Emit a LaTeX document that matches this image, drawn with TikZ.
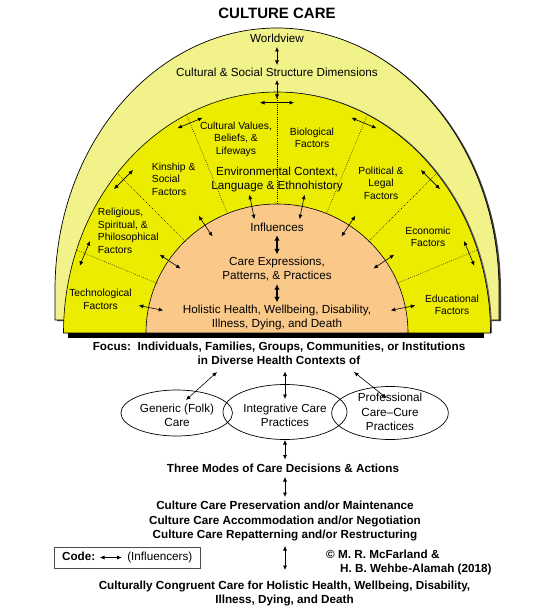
\documentclass[tikz,border=0pt]{standalone}
\usepackage{fontspec}
\setmainfont{Liberation Sans}
\usetikzlibrary{arrows.meta,calc}
\definecolor{lightyel}{RGB}{242,242,138}
\definecolor{yel}{RGB}{236,236,0}
\definecolor{peach}{RGB}{250,201,138}
\begin{document}
\begin{tikzpicture}[x=1pt,y=1pt,
  lbl/.style={font=\fontsize{11.7}{14.3}\selectfont, align=center, inner sep=0pt},
  envlbl/.style={font=\fontsize{11.7}{13.4}\selectfont, align=center, inner sep=0pt},
  sect/.style={font=\fontsize{10.3}{12.5}\selectfont, align=center, inner sep=0pt},
  sectl/.style={font=\fontsize{10.3}{12.5}\selectfont, align=left, inner sep=0pt, anchor=west},
  bld/.style={font=\fontsize{11.7}{14.3}\selectfont\bfseries, align=center, inner sep=0pt},
  inf/.style={{Latex[length=4.5pt,width=4pt]}-{Latex[length=4.5pt,width=4pt]}, line width=0.6pt},
  bigarr/.style={{Latex[length=5.5pt,width=5.5pt]}-{Latex[length=5.5pt,width=5.5pt]}, line width=1.3pt},
  divline/.style={line width=0.4pt, dash pattern=on 0.8pt off 1.3pt},
  carering/.style={draw, line width=0.7pt},
]
\useasboundingbox (0,0) rectangle (555,-612);
\fill[white] (0,0) rectangle (555,-612);
\coordinate (C) at (277,-333);

% outer dome with shadow
\fill[black!75] (57,-321) -- (57,-291) arc[start angle=180,end angle=0,x radius=222,y radius=262] -- (501,-321) -- cycle;
\filldraw[fill=lightyel, draw=black, line width=0.7pt] (55,-320) -- (55,-290) arc[start angle=180,end angle=0,x radius=222,y radius=262] -- (499,-320) -- cycle;

% inner dome
\fill[black!60] (65,-333) arc[start angle=180,end angle=0,x radius=213.5,y radius=241] -- cycle;
\filldraw[fill=yel, draw=black, line width=0.6pt] (63.5,-333) arc[start angle=180,end angle=0,x radius=213.5,y radius=241] -- cycle;

% peach
\filldraw[fill=peach, draw=black, line width=0.6pt] (146,-333) arc[start angle=180,end angle=0,x radius=131,y radius=129] -- cycle;

% base bar
\fill[black] (68,-333) rectangle (484,-337.5);

% dividing lines
\foreach \a/\r [count=\i] in {22.5/217, 45/226, 67.5/236.3, 90/241, 112.5/236.3, 135/226, 157.5/217}{
  \coordinate (da\i) at ($(C)+(\a:129.5)$);
  \coordinate (db\i) at ($(C)+(\a:\r)$);
  \draw[divline] (da\i) -- (db\i);
}

% perpendicular arrows across dividing lines
\foreach \a/\r [count=\i] in {22.5/217, 45/226, 67.5/236.3, 112.5/236.3, 135/226, 157.5/217}{
  \pgfmathsetmacro\rr{\r-9}
  \pgfmathsetmacro\ap{\a+90}
  \pgfmathsetmacro\am{\a-90}
  \coordinate (pm\i) at ($(C)+(\a:\rr)$);
  \coordinate (pa\i) at ($(pm\i)+(\ap:13.5)$);
  \coordinate (pb\i) at ($(pm\i)+(\am:13.5)$);
  \draw[inf] (pa\i) -- (pb\i);
}
\coordinate (ha) at (260,-102.7);
\coordinate (hb) at (294,-102.7);
\draw[inf] (ha) -- (hb);

% radial arrows across peach boundary
\foreach \a [count=\i] in {11.25,33.75,56.25,78.75,101.25,123.75,146.25,168.75}{
  \coordinate (ra\i) at ($(C)+(\a:141)$);
  \coordinate (rb\i) at ($(C)+(\a:116)$);
  \draw[inf] (ra\i) -- (rb\i);
}

% texts in domes
\node[font=\fontsize{15}{18}\selectfont\bfseries, inner sep=0pt] (title) at (277,-13.3) {CULTURE CARE};
\node[lbl] (world) at (277,-38.5) {Worldview};
\node[lbl] (cssd) at (277,-72.7) {Cultural \& Social Structure Dimensions};
\node[sect] (cvb) at (236,-139) {Cultural Values,\\Beliefs, \&\\Lifeways};
\node[sect] (bio) at (312,-138) {Biological\\Factors};
\node[envlbl] (env) at (277,-179.3) {Environmental Context,\\Language \& Ethnohistory};
\node[sectl] (kin) at (151.7,-179.3) {Kinship \&\\Social\\Factors};
\node[sectl] (rel) at (97.7,-231) {Religious,\\Spiritual, \&\\Philosophical\\Factors};
\node[sect] (tech) at (100.5,-299.5) {Technological\\Factors};
\node[sect] (pol) at (381,-183.3) {Political \&\\Legal\\Factors};
\node[sect] (eco) at (428,-237) {Economic\\Factors};
\node[sect] (edu) at (452,-304.7) {Educational\\Factors};
\node[lbl] (infl) at (277,-227.7) {Influences};
\node[lbl] (cep) at (277,-268.8) {Care Expressions,\\Patterns, \& Practices};
\node[lbl] (hol) at (277,-317.2) {Holistic Health, Wellbeing, Disability,\\Illness, Dying, and Death};

\coordinate (wa) at (277,-47);
\coordinate (wb) at (277,-65);
\draw[inf] (wa) -- (wb);
\coordinate (ca) at (277,-80);
\coordinate (cb) at (277,-99);
\draw[inf] (ca) -- (cb);
\draw[bigarr] ([yshift=-3pt]infl.south) -- ([yshift=2pt]cep.north);
\draw[bigarr] ([yshift=-3pt]cep.south) -- ([yshift=2pt]hol.north);

% lower part
\node[bld] (focus) at (279,-353.5) {Focus:\ \ Individuals, Families, Groups, Communities, or Institutions\\in Diverse Health Contexts of};

\draw[carering] (176.7,-413) ellipse[x radius=55.8, y radius=23];
\draw[carering] (285,-412) ellipse[x radius=62, y radius=27.5];
\draw[carering] (390,-413) ellipse[x radius=58.3, y radius=26.5];
\node[lbl] (gen) at (177,-415.5) {Generic (Folk)\\Care};
\node[lbl] (integ) at (285,-415.5) {Integrative Care\\Practices};
\node[lbl] (prof) at (390,-412) {Professional\\Care--Cure\\Practices};

\coordinate (f1) at (217,-372);
\coordinate (g1) at (186,-400);
\draw[inf] (f1) -- (g1);
\coordinate (f2) at (285,-371.5);
\coordinate (g2) at (285,-399);
\draw[inf] (f2) -- (g2);
\coordinate (f3) at (354,-372);
\coordinate (g3) at (386.5,-398);
\draw[inf] (f3) -- (g3);

\node[bld] (three) at (283,-468) {Three Modes of Care Decisions \& Actions};
\coordinate (ia) at (285,-440);
\coordinate (ib) at (285,-459.5);
\draw[inf] (ia) -- (ib);
\node[bld] (modes) at (285,-521) {Culture Care Preservation and/or Maintenance\\Culture Care Accommodation and/or Negotiation\\Culture Care Repatterning and/or Restructuring};
\coordinate (ta) at (285,-477);
\coordinate (tb) at (285,-497);
\draw[inf] (ta) -- (tb);
\coordinate (ma) at (285,-546);
\coordinate (mb) at (285,-570);
\draw[inf] (ma) -- (mb);

\node[draw=black!70, line width=0.8pt, minimum width=145.7pt, minimum height=21pt, inner sep=0pt, font=\fontsize{11.7}{14.3}\selectfont] (code) at (127.2,-557.8) {\textbf{Code:}\hspace{32pt}(Influencers)};
\coordinate (ka) at (100,-557.5);
\coordinate (kb) at (121.7,-557.5);
\draw[inf] (ka) -- (kb);

\node[font=\fontsize{11.7}{14.3}\selectfont\bfseries, align=left, inner sep=0pt, anchor=west] (copy) at (326,-562.8) {© M. R. McFarland \&\\\hspace*{14pt}H. B. Wehbe-Alamah (2018)};

\node[bld] (ccc) at (284.5,-593.8) {Culturally Congruent Care for Holistic Health, Wellbeing, Disability,\\Illness, Dying, and Death};
\end{tikzpicture}
\end{document}
